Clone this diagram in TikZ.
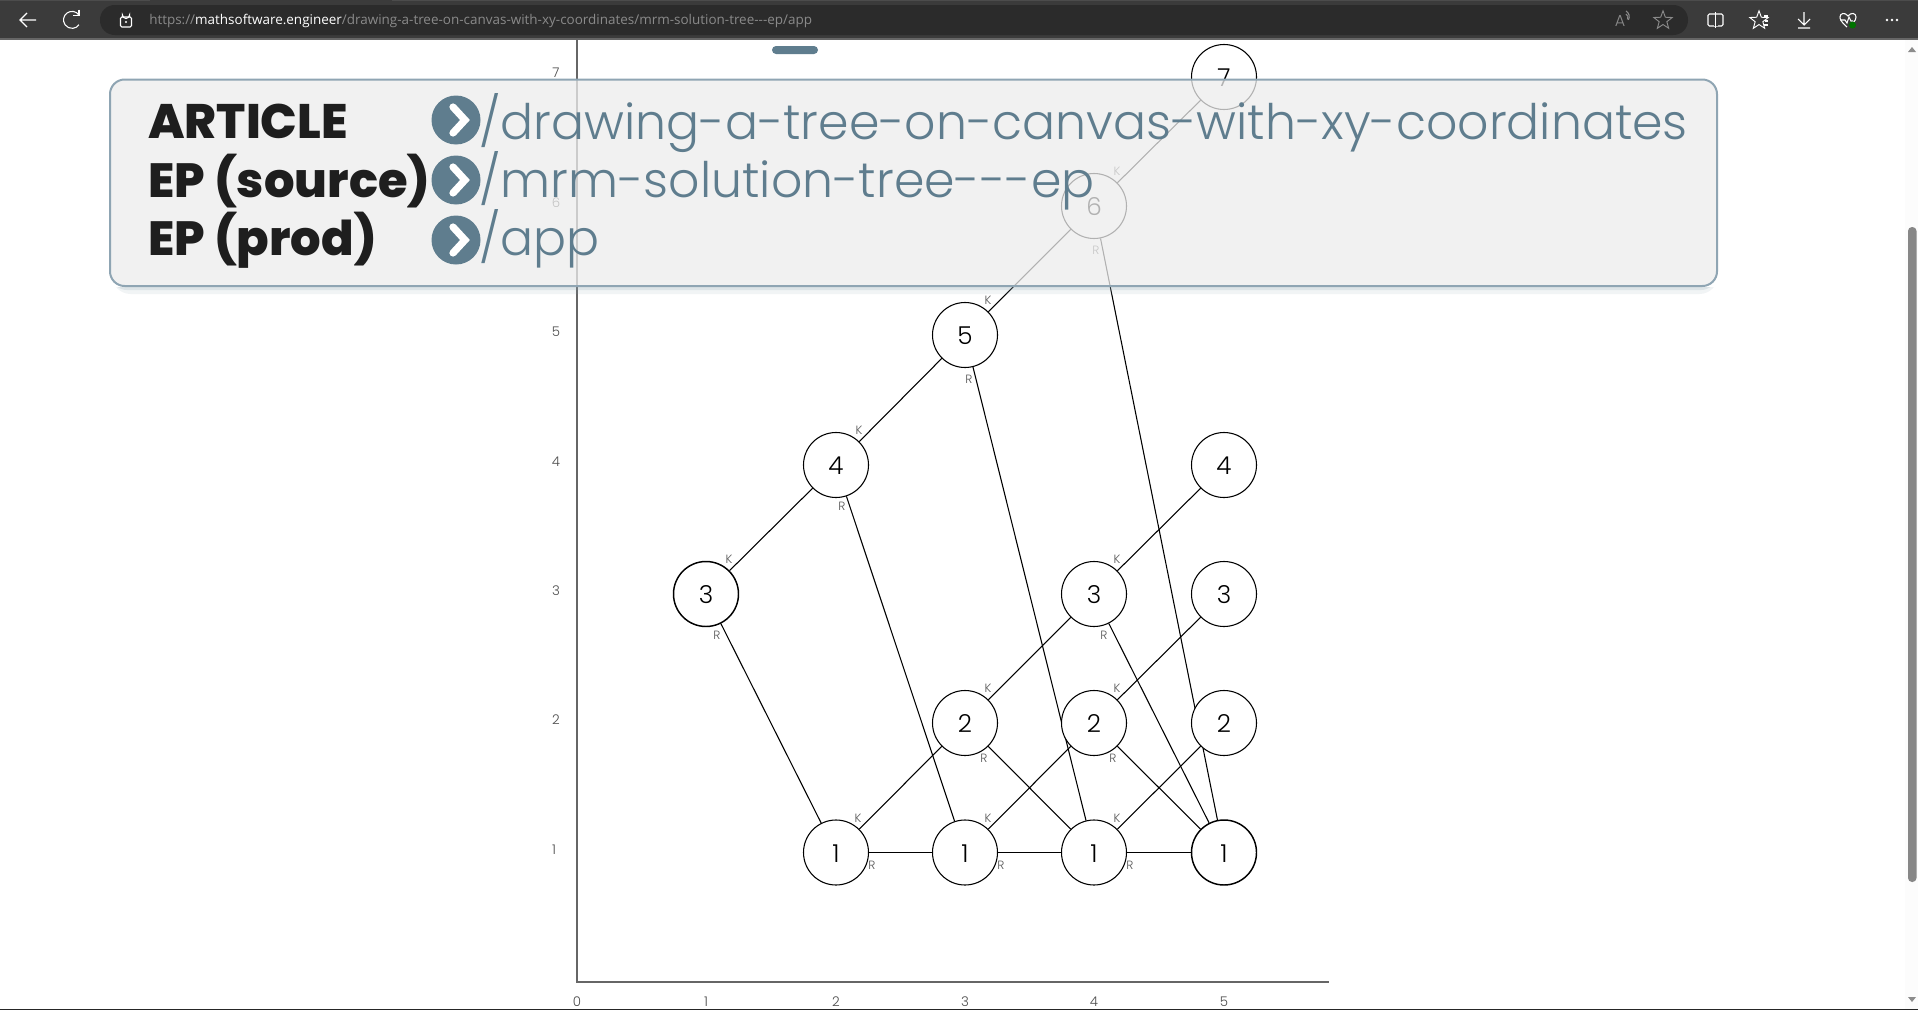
\documentclass[tikz,border=0pt]{standalone}
\usepackage{fontspec}
\usepackage{xcolor}
\usepackage{tikz}
\usetikzlibrary{shapes.geometric, arrows.meta, backgrounds, positioning, calc}
\setmainfont{Poppins}
\newfontfamily\urlfont{Open Sans}
\newfontfamily\poplight{Poppins Light}
\newfontfamily\popheavy{Poppins ExtraBold}
\definecolor{barcolor}{HTML}{3B3B3B}
\definecolor{pillcolor}{HTML}{2B2B2B}
\definecolor{slatecolor}{HTML}{5F7D8E}
\definecolor{bordercolor}{HTML}{8FA5B3}
\definecolor{dimcolor}{HTML}{8A8A8A}
\definecolor{inkcolor}{HTML}{1E1E1E}

\begin{document}
\begin{tikzpicture}[
    x=0.75pt, y=-0.75pt,
    treenode/.style={circle, draw=black, line width=0.8pt, fill=white, minimum size=48.75pt, inner sep=0pt, text height=14.5pt, text depth=0pt, font=\poplight\fontsize{18.5}{20}\selectfont},
    heavynode/.style={treenode, line width=1.1pt},
    edgelabel/.style={inner sep=0pt, text=black!65, font=\poplight\fontsize{9}{10}\selectfont},
    ticklabel/.style={inner sep=0pt, text=black!70, font=\poplight\fontsize{10}{11}\selectfont},
    edge/.style={line width=0.8pt},
    axisline/.style={line width=0.8pt, draw=black!60},
    headtext/.style={anchor=base west, inner sep=0pt, text=inkcolor, font=\popheavy\fontsize{36}{40}\selectfont},
    pathtext/.style={anchor=base west, inner sep=0pt, text=slatecolor, font=\poplight\fontsize{36.7}{40}\selectfont},
    iconbtn/.style={circle, fill=slatecolor, minimum size=36.75pt, inner sep=0pt},
    chevron/.style={draw=white, line width=5.4pt, line join=miter, line cap=round},
    baricon/.style={draw=white, line width=0.8pt},
    dimicon/.style={draw=dimcolor, line width=0.8pt}
]
    \useasboundingbox (0,0) rectangle (1918,1010);

    % Axes
    \coordinate (origin) at (577,982);
    \coordinate (ytop) at (577,39);
    \coordinate (xend) at (1329,982);
    \draw[axisline] (ytop) -- (origin) -- (xend);
    \node[ticklabel] (x0) at (577,1002) {0};
    \node[ticklabel] (x1) at (706,1002) {1};
    \node[ticklabel] (x2) at (836,1002) {2};
    \node[ticklabel] (x3) at (965,1002) {3};
    \node[ticklabel] (x4) at (1094,1002) {4};
    \node[ticklabel] (x5) at (1224,1002) {5};
    \node[ticklabel] (y1) at (554,850) {1};
    \node[ticklabel] (y2) at (556,720) {2};
    \node[ticklabel] (y3) at (556,591) {3};
    \node[ticklabel] (y4) at (556,462) {4};
    \node[ticklabel] (y5) at (556,332) {5};
    \node[ticklabel] (y6) at (556,203) {6};
    \node[ticklabel] (y7) at (556,73) {7};

    % Tree nodes
    \node[heavynode] (n31) at (706,594) {3};
    \node[treenode] (n42) at (836,465) {4};
    \node[treenode] (n53) at (965,335) {5};
    \node[treenode] (n64) at (1094,206) {6};
    \node[treenode] (n75) at (1224,77) {7};
    \node[treenode] (n45) at (1224,465) {4};
    \node[treenode] (n34) at (1094,594) {3};
    \node[treenode] (n35) at (1224,594) {3};
    \node[treenode] (n23) at (965,723) {2};
    \node[treenode] (n24) at (1094,723) {2};
    \node[treenode] (n25) at (1224,723) {2};
    \node[treenode] (n12) at (836,852.5) {1};
    \node[treenode] (n13) at (965,852.5) {1};
    \node[treenode] (n14) at (1094,852.5) {1};
    \node[heavynode] (n15) at (1224,852.5) {1};

    % Connections
    \begin{scope}[on background layer]
        \fill[white] (0,0) rectangle (1918,1010);
        \draw[edge] (n31) -- (n42);
        \draw[edge] (n42) -- (n53);
        \draw[edge] (n53) -- (n64);
        \draw[edge] (n64) -- (n75);
        \draw[edge] (n31) -- (n12);
        \draw[edge] (n42) -- (n13);
        \draw[edge] (n53) -- (n14);
        \draw[edge] (n64) -- (n15);
        \draw[edge] (n12) -- (n23);
        \draw[edge] (n13) -- (n24);
        \draw[edge] (n14) -- (n25);
        \draw[edge] (n23) -- (n34);
        \draw[edge] (n24) -- (n35);
        \draw[edge] (n34) -- (n45);
        \draw[edge] (n12) -- (n13);
        \draw[edge] (n13) -- (n14);
        \draw[edge] (n14) -- (n15);
        \draw[edge] (n23) -- (n14);
        \draw[edge] (n24) -- (n15);
        \draw[edge] (n34) -- (n15);
    \end{scope}

    % K labels
    \node[edgelabel] (k31) at (729,559) {K};
    \node[edgelabel] (k42) at (859,430) {K};
    \node[edgelabel] (k53) at (988,300) {K};
    \node[edgelabel] (k64) at (1117,171) {K};
    \node[edgelabel] (k34) at (1117,559) {K};
    \node[edgelabel] (k23) at (988,688) {K};
    \node[edgelabel] (k24) at (1117,688) {K};
    \node[edgelabel] (k12) at (858,818) {K};
    \node[edgelabel] (k13) at (988,818) {K};
    \node[edgelabel] (k14) at (1117,818) {K};

    % R labels
    \node[edgelabel] (r31) at (717,635) {R};
    \node[edgelabel] (r42) at (842,506) {R};
    \node[edgelabel] (r53) at (969,379) {R};
    \node[edgelabel] (r64) at (1096,250) {R};
    \node[edgelabel] (r34) at (1104,635) {R};
    \node[edgelabel] (r23) at (984,758) {R};
    \node[edgelabel] (r24) at (1113,758) {R};
    \node[edgelabel] (r12) at (872,865) {R};
    \node[edgelabel] (r13) at (1001,865) {R};
    \node[edgelabel] (r14) at (1130,865) {R};

    % Address box
    \begin{scope}
        \clip (100,287) rectangle (1730,300);
        \fill[bordercolor, opacity=0.12, rounded corners=14pt] (112,88) rectangle (1718,294);
        \fill[bordercolor, opacity=0.2, rounded corners=11pt] (112,84) rectangle (1716,290);
    \end{scope}
    \draw[bordercolor, line width=1.5pt, fill=black!7, fill opacity=0.75, rounded corners=11pt] (110,79.5) rectangle (1717,286);
    \node[headtext, font=\popheavy\fontsize{36.3}{40}\selectfont] (article) at (148,138) {ARTICLE};
    \node[headtext] (source) at (148,197) {EP (source)};
    \node[headtext] (prod) at (148,255) {EP (prod)};
    \node[iconbtn] (btna) at (456,120) {};
    \node[iconbtn] (btnb) at (456,180) {};
    \node[iconbtn] (btnc) at (456,240) {};
    \draw[chevron] ([shift={(-3,-13)}]btna.center) -- ([shift={(9,0)}]btna.center) -- ([shift={(-3,13)}]btna.center);
    \draw[chevron] ([shift={(-3,-13)}]btnb.center) -- ([shift={(9,0)}]btnb.center) -- ([shift={(-3,13)}]btnb.center);
    \draw[chevron] ([shift={(-3,-13)}]btnc.center) -- ([shift={(9,0)}]btnc.center) -- ([shift={(-3,13)}]btnc.center);
    \node[pathtext] (patha) at (479,139) {/drawing-a-tree-on-canvas-with-xy-coordinates};
    \node[pathtext] (pathb) at (479,197.5) {/mrm-solution-tree---ep};
    \node[pathtext] (pathc) at (479,255.5) {/app};

    % Drag handle
    \fill[slatecolor, rounded corners=3pt] (772,46) rectangle (818,54);

    % Browser bar
    \fill[barcolor] (0,0) rectangle (1918,38);
    \fill[black!70] (0,0) rectangle (150,1);
    \fill[black!70] (392,0) rectangle (1918,1);
    \fill[black!60] (0,38) rectangle (1918,39.5);
    \fill[pillcolor, rounded corners=11pt] (100,5) rectangle (1688,35);
    \node[anchor=base west, inner sep=0pt, text=dimcolor, font=\urlfont\fontsize{10.1}{12}\selectfont] (url) at (149,25) {https://\textcolor{white}{mathsoftware.engineer}/drawing-a-tree-on-canvas-with-xy-coordinates/mrm-solution-tree---ep/app};

    % Browser icons
    \draw[baricon] (36,20) -- (20,20) (27,13) -- (20,20) -- (27,27);
    \draw[baricon] (79,15) arc[start angle=-35, end angle=-325, radius=8.5] ;
    \draw[baricon] (79,9.5) -- (79,15.5) -- (73,15.5);
    \draw[baricon, rounded corners=1pt] (120.5,17) rectangle (131.5,27);
    \draw[baricon] (122.5,17) -- (122.5,15) arc[start angle=180, end angle=0, radius=3.5] -- (129.5,17);
    \fill[white] (126,22) circle[radius=1.1];
    \node[inner sep=0pt, text=dimcolor, font=\poplight\fontsize{12}{12}\selectfont] (reada) at (1620,21) {A};
    \draw[dimicon] (1626,14) arc[start angle=-60, end angle=30, radius=4];
    \draw[dimicon] (1626,11) arc[start angle=-60, end angle=30, radius=6.5];
    \node[star, star points=5, star point ratio=2.4, draw=dimcolor, line width=0.7pt, minimum size=14.5pt, inner sep=0pt] (fav) at (1663,20.5) {};
    \draw[baricon, rounded corners=1pt] (1708,14) rectangle (1723,26);
    \draw[baricon] (1715.5,12) -- (1715.5,28);
    \fill[barcolor] (1713.5,14.5) rectangle (1714.9,25.5);
    \fill[barcolor] (1716.1,14.5) rectangle (1717.5,25.5);
    \node[star, star points=5, star point ratio=2.4, draw=white, line width=0.7pt, minimum size=14.5pt, inner sep=0pt] (favs) at (1759,20.5) {};
    \draw[baricon] (1764,16) -- (1768,16) (1765,21) -- (1768,21) (1764,25) -- (1768,25);
    \draw[baricon] (1804,12) -- (1804,25) (1798,19) -- (1804,25) -- (1810,19) (1798,28) -- (1810,28);
    \draw[baricon] (1847,27) .. controls (1841,22) and (1840,19) .. (1840,17) .. controls (1840,13) and (1845,12) .. (1848,16) .. controls (1851,12) and (1856,13) .. (1856,17) .. controls (1856,19) and (1855,21) .. (1853,23);
    \draw[baricon] (1840,20) -- (1845,20) -- (1847,23) -- (1849,17) -- (1851,21) -- (1853,21);
    \fill[green!45!black] (1852.5,25) circle[radius=3.5];
    \fill[white] (1887,20) circle[radius=1.3] (1892,20) circle[radius=1.3] (1897,20) circle[radius=1.3];

    % Scrollbar
    \fill[black!1] (1905,39.5) rectangle (1918,1009);
    \fill[black!47, rounded corners=3pt] (1908,227) rectangle (1916.5,882);
    \fill[black!45] (1908,52) -- (1912,47) -- (1916,52) -- cycle;
    \fill[black!45] (1908,997) -- (1912,1002) -- (1916,997) -- cycle;

    % Bottom edge
    \fill[black!85] (0,1009) rectangle (1918,1010);
\end{tikzpicture}
\end{document}
